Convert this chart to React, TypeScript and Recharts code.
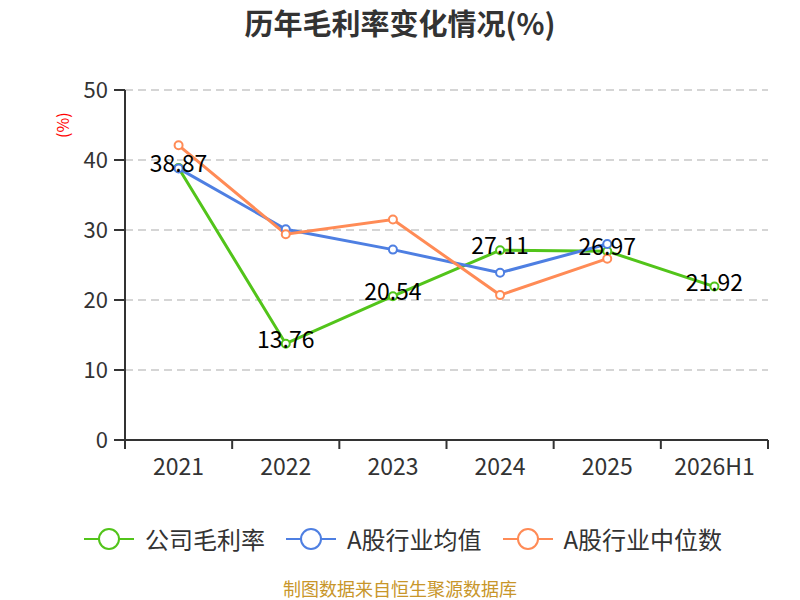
import React from "react";
import {
  LineChart,
  Line,
  XAxis,
  YAxis,
  CartesianGrid,
  Legend,
  LabelList,
} from "recharts";

const years = ["2021", "2022", "2023", "2024", "2025", "2026H1"];
const companyMargin = [38.87, 13.76, 20.54, 27.11, 26.97, 21.92];
const industryAvg = [38.8, 30.1, 27.2, 23.9, 28.0, null];
const industryMedian = [42.1, 29.4, 31.5, 20.7, 25.9, null];
const yTicks = [0, 10, 20, 30, 40, 50];

const GREEN = "#52c41a";
const BLUE = "#4e7fe2";
const ORANGE = "#ff8b56";

const seriesInfo = [
  { name: "公司毛利率", color: GREEN },
  { name: "A股行业均值", color: BLUE },
  { name: "A股行业中位数", color: ORANGE },
];

const data = years.map((year, i) => ({
  year,
  company: companyMargin[i],
  avg: industryAvg[i],
  median: industryMedian[i],
}));

const FONT = "'Noto Sans CJK SC', 'Noto Sans', sans-serif";
const PLOT_LEFT = 125;
const PLOT_RIGHT = 768;
const band = (PLOT_RIGHT - PLOT_LEFT) / years.length;

function XTick(props: any) {
  const { x, y, payload, index } = props;
  const left = x - band / 2;
  return (
    <g>
      <line x1={left} y1={y - 8} x2={left} y2={y + 1} stroke="#333" strokeWidth={2} />
      {index === years.length - 1 && (
        <line x1={x + band / 2} y1={y - 8} x2={x + band / 2} y2={y + 1} stroke="#333" strokeWidth={2} />
      )}
      <text x={x} y={y + 27} textAnchor="middle" fill="#333" fontSize={23} fontFamily={FONT}>
        {payload.value}
      </text>
    </g>
  );
}

function ValueLabel(props: any) {
  const { x, y, value } = props;
  if (value == null) return null;
  return (
    <text x={x} y={y - 2} textAnchor="middle" dominantBaseline="middle" fill="#000" fontSize={23} fontFamily={FONT}>
      {value.toFixed(2)}
    </text>
  );
}

function LegendContent() {
  return (
    <div style={{ display: "flex", justifyContent: "center", gap: 21, fontFamily: FONT, paddingLeft: 6 }}>
      {seriesInfo.map((s) => (
        <div key={s.name} style={{ display: "flex", alignItems: "center" }}>
          <svg width={50} height={26}>
            <line x1={0} y1={13} x2={50} y2={13} stroke={s.color} strokeWidth={2} />
            <circle cx={25} cy={13} r={10} fill="#fff" stroke={s.color} strokeWidth={2} />
          </svg>
          <span style={{ fontSize: 24, color: "#333", marginLeft: 11 }}>{s.name}</span>
        </div>
      ))}
    </div>
  );
}

export default function App() {
  return (
    <div style={{ position: "relative", width: 800, height: 600, background: "#fff", overflow: "hidden" }}>
      <style>{`body{margin:0}`}</style>
      <div
        style={{
          position: "absolute",
          top: 2,
          width: 800,
          textAlign: "center",
          fontFamily: FONT,
          fontWeight: "bold",
          fontSize: 29,
          lineHeight: "40px",
          color: "#333",
        }}
      >
        历年毛利率变化情况(%)
      </div>
      <LineChart width={800} height={600} data={data} margin={{ top: 90, right: 32, bottom: 130, left: 0 }}>
        <CartesianGrid horizontal vertical={false} stroke="#c8c8c8" strokeDasharray="8 5" strokeWidth={1.5} />
        <XAxis
          dataKey="year"
          axisLine={{ stroke: "#333", strokeWidth: 2 }}
          tickLine={false}
          tick={<XTick />}
          height={30}
          interval={0}
          padding={{ left: band / 2, right: band / 2 }}
        />
        <YAxis
          width={125}
          domain={[0, 50]}
          ticks={yTicks}
          axisLine={{ stroke: "#333", strokeWidth: 2 }}
          tickLine={{ stroke: "#333", strokeWidth: 2 }}
          tickSize={11}
          tickMargin={6}
          tick={{ fill: "#333", fontSize: 22, fontFamily: FONT }}
          label={{
            value: "(%)",
            angle: -90,
            position: "insideLeft",
            offset: 63,
            dy: -127,
            fill: "#ff0000",
            fontSize: 16,
            fontFamily: FONT,
          }}
        />
        <Legend
          verticalAlign="middle"
          layout="horizontal"
          content={<LegendContent />}
          wrapperStyle={{ top: 521, left: 0, width: 800 }}
        />
        <Line
          dataKey="company"
          name="公司毛利率"
          stroke={GREEN}
          strokeWidth={3}
          dot={{ r: 4, fill: "#fff", stroke: GREEN, strokeWidth: 2 }}
          isAnimationActive={false}
        />
        <Line
          dataKey="avg"
          name="A股行业均值"
          stroke={BLUE}
          strokeWidth={3}
          dot={{ r: 4, fill: "#fff", stroke: BLUE, strokeWidth: 2 }}
          isAnimationActive={false}
        />
        <Line
          dataKey="median"
          name="A股行业中位数"
          stroke={ORANGE}
          strokeWidth={3}
          dot={{ r: 4, fill: "#fff", stroke: ORANGE, strokeWidth: 2 }}
          isAnimationActive={false}
        />
        <Line
          dataKey="company"
          legendType="none"
          stroke="none"
          dot={false}
          activeDot={false}
          isAnimationActive={false}
        >
          <LabelList dataKey="company" content={<ValueLabel />} />
        </Line>
      </LineChart>
      <div
        style={{
          position: "absolute",
          top: 577,
          width: 800,
          textAlign: "center",
          fontFamily: FONT,
          fontSize: 18,
          lineHeight: "22px",
          color: "#c8962a",
        }}
      >
        制图数据来自恒生聚源数据库
      </div>
    </div>
  );
}
